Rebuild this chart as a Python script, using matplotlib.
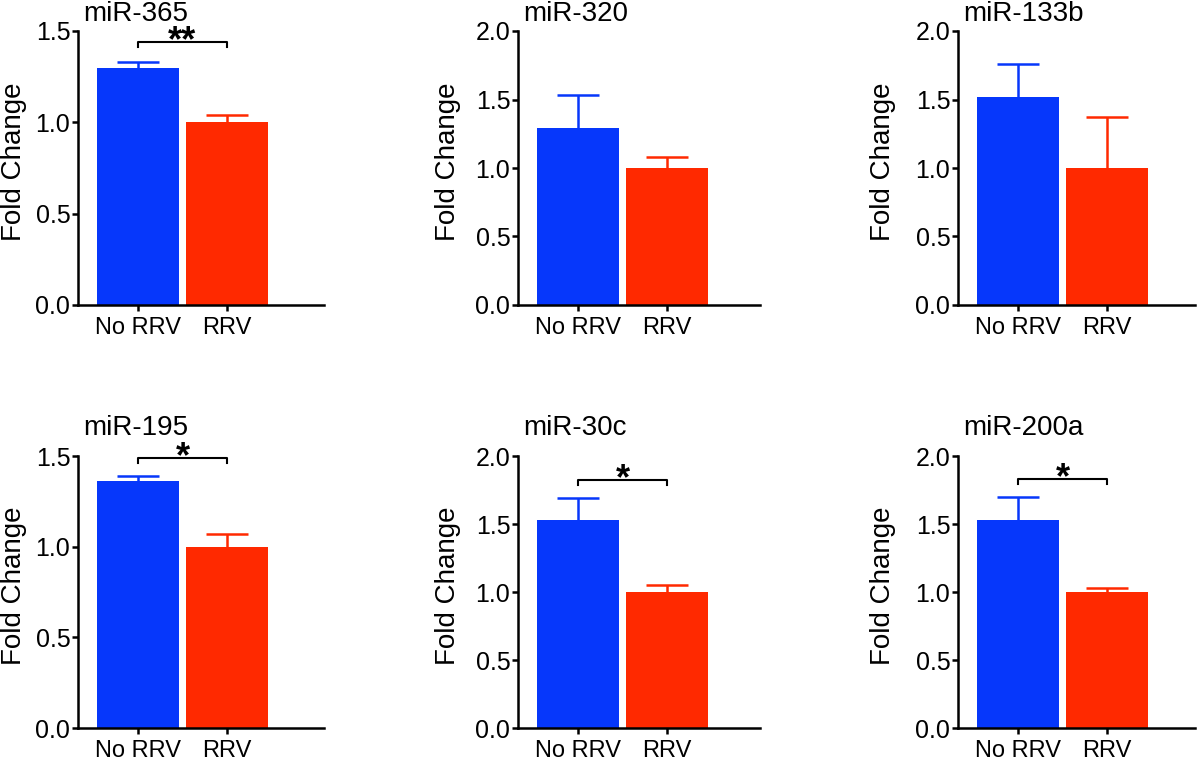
import matplotlib
matplotlib.use("Agg")
import matplotlib.pyplot as plt
from matplotlib.transforms import offset_copy
import numpy as np

plt.rcParams["font.family"] = ["Liberation Sans", "DejaVu Sans"]

# values (fold change, upper SEM only)
titles = ["miR-365", "miR-320", "miR-133b", "miR-195", "miR-30c", "miR-200a"]
groups = ["No RRV", "RRV"]
no_rrv = [1.30, 1.29, 1.52, 1.36, 1.53, 1.53]
no_rrv_err = [0.03, 0.24, 0.24, 0.03, 0.16, 0.17]
rrv = [1.0, 1.0, 1.0, 1.0, 1.0, 1.0]
rrv_err = [0.04, 0.08, 0.37, 0.07, 0.055, 0.03]
y_max = [1.5, 2.0, 2.0, 1.5, 2.0, 2.0]
sig_labels = ["**", "", "", "*", "*", "*"]
sig_y = [1.44, None, None, 1.49, 1.82, 1.83]

BLUE = "#0637fb"
RED = "#ff2900"
W, H = 1200, 761

# layout in pixels
col_left = [78, 518, 958]
col_width = [246, 242, 237]
row_top = [31, 456]
row_bottom = [305, 728]
ylabel_off = [-64, -70, -75]
title_gap = [10, 21]
px_per_unit = 89.0
first_tick = 60.0

fig = plt.figure(figsize=(W / 100, H / 100), dpi=100)

for i, name in enumerate(titles):
    r, c = divmod(i, 3)
    left = col_left[c] / W
    bottom = 1 - row_bottom[r] / H
    ax = fig.add_axes([left, bottom, col_width[c] / W, (row_bottom[r] - row_top[r]) / H])

    x = np.arange(len(groups))
    vals = [no_rrv[i], rrv[i]]
    errs = [no_rrv_err[i], rrv_err[i]]
    colors = [BLUE, RED]
    ax.bar(x, vals, width=0.93, color=colors, zorder=2)
    for xi, v, e, col in zip(x, vals, errs, colors):
        eb = ax.errorbar(xi, v, yerr=[[0], [e]], fmt="none", ecolor=col,
                         elinewidth=1.8, capsize=15, capthick=1.8, zorder=1)
        # keep only the upper cap, as in the one-sided SEM style
        for cap in eb[1]:
            if abs(cap.get_ydata()[0] - v) < 1e-9:
                cap.set_visible(False)

    ax.set_xlim(-first_tick / px_per_unit, (col_width[c] - first_tick) / px_per_unit)
    ax.set_ylim(0, y_max[i])
    ticks = np.arange(0, y_max[i] + 0.01, 0.5)
    ax.set_yticks(ticks)
    ax.set_yticklabels([f"{t:.1f}" for t in ticks])
    ax.set_xticks(x)
    ax.set_xticklabels(groups)

    for s in ["top", "right"]:
        ax.spines[s].set_visible(False)
    for s in ["left", "bottom"]:
        ax.spines[s].set_linewidth(1.8)
    ax.tick_params(axis="y", direction="out", length=4.5, width=1.8, pad=1, labelsize=18)
    ax.tick_params(axis="x", direction="out", length=4.5, width=1.8, pad=4, labelsize=17)

    tr = offset_copy(ax.transAxes, fig=fig, x=5, y=title_gap[r], units="dots")
    ax.text(0, 1, name, transform=tr, ha="left", va="baseline", fontsize=20)

    tr = offset_copy(ax.transAxes, fig=fig, x=ylabel_off[c], y=6, units="dots")
    ax.text(0, 0.5, "Fold Change", transform=tr, rotation=90,
            ha="center", va="center", fontsize=20)

    if sig_labels[i]:
        yb = sig_y[i]
        drop = 0.018 * y_max[i]
        ax.plot([0, 0, 1, 1], [yb - drop, yb, yb, yb - drop], color="black",
                lw=1.5, clip_on=False, zorder=3)
        ax.annotate(sig_labels[i], xy=(0.5, yb), xytext=(0, -6.5),
                    textcoords="offset points", ha="center", va="baseline",
                    fontsize=26, fontweight="bold", annotation_clip=False)

fig.savefig("out.png", dpi=100)
